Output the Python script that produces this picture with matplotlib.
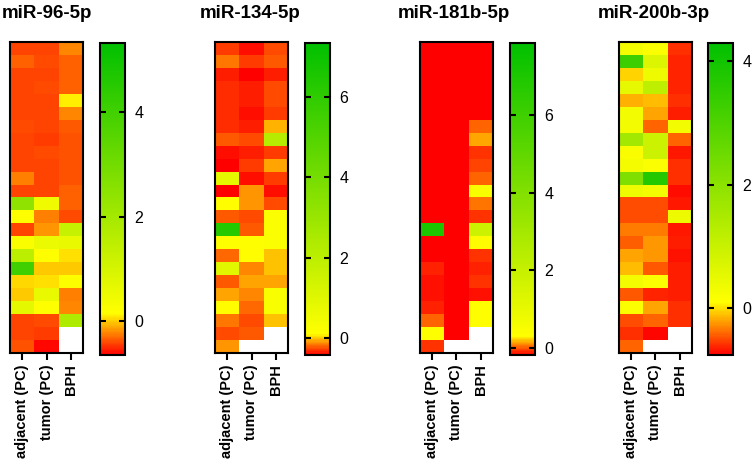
import numpy as np
import matplotlib
matplotlib.use("Agg")
import matplotlib.pyplot as plt
from matplotlib.colors import LinearSegmentedColormap, Normalize

plt.rcParams['font.family'] = ['Liberation Sans', 'DejaVu Sans']

nan = np.nan

groups = ["adjacent (PC)", "tumor (PC)", "BPH"]
titles = ["miR-96-5p", "miR-134-5p", "miR-181b-5p", "miR-200b-3p"]

# colour scale per panel: min, value shown as pure yellow, max
scale_min = [-0.65, -0.42, -0.18, -0.76]
scale_mid = [0.15, 0.10, 0.30, 0.10]
scale_max = [5.33, 7.34, 7.86, 4.30]
cbar_ticks = [[0, 2, 4], [0, 2, 4, 6], [0, 2, 4, 6], [0, 2, 4]]

# rows = samples (top to bottom), columns = adjacent, tumor, BPH
mir96 = [
    [-0.43, -0.43, -0.21], [-0.33, -0.41, -0.33], [-0.43, -0.42, -0.33],
    [-0.43, -0.40, -0.33], [-0.43, -0.42, 0.11], [-0.43, -0.42, -0.21],
    [-0.41, -0.43, -0.35], [-0.43, -0.44, -0.37], [-0.43, -0.41, -0.37],
    [-0.43, -0.43, -0.37], [-0.25, -0.43, -0.37], [-0.43, -0.43, -0.33],
    [2.40, 0.45, -0.33], [0.15, -0.25, -0.41], [-0.43, -0.17, 1.30],
    [0.25, 0.55, 0.60], [1.50, 0.15, 0.07], [4.00, -0.01, -0.01],
    [0.03, 0.07, 0.20], [-0.01, 0.60, -0.25], [0.70, 0.15, -0.21],
    [-0.43, -0.41, 1.80], [-0.43, -0.45, nan], [-0.37, -0.61, nan],
]
mir134 = [
    [-0.29, -0.37, -0.24], [-0.16, -0.27, -0.22], [-0.33, -0.39, -0.34],
    [-0.32, -0.34, -0.24], [-0.32, -0.33, -0.26], [-0.32, -0.37, -0.29],
    [-0.32, -0.34, -0.03], [-0.21, -0.24, 2.20], [-0.36, -0.34, -0.29],
    [-0.39, -0.29, -0.08], [0.80, -0.37, -0.29], [-0.41, -0.11, -0.36],
    [0.10, -0.11, -0.26], [-0.21, -0.24, 0.20], [6.30, -0.22, 0.20],
    [0.15, 0.15, 0.20], [-0.19, 0.10, 0.00], [1.00, -0.13, 0.00],
    [-0.21, -0.08, -0.06], [-0.06, -0.13, 0.30], [0.12, -0.19, 0.30],
    [-0.16, -0.24, 0.00], [-0.24, -0.21, nan], [-0.11, nan, nan],
]
mir181 = [
    [-0.17, -0.17, -0.17], [-0.17, -0.17, -0.17], [-0.17, -0.17, -0.17],
    [-0.17, -0.17, -0.17], [-0.17, -0.17, -0.17], [-0.17, -0.17, -0.17],
    [-0.17, -0.17, 0.01], [-0.17, -0.17, 0.16], [-0.17, -0.17, -0.08],
    [-0.17, -0.17, -0.04], [-0.17, -0.17, 0.01], [-0.17, -0.17, 0.50],
    [-0.17, -0.17, 0.06], [-0.17, -0.17, -0.08], [7.00, -0.17, 1.80],
    [-0.16, -0.17, 0.30], [-0.16, -0.17, -0.06], [-0.11, -0.17, -0.09],
    [-0.14, -0.17, -0.08], [-0.14, -0.17, -0.13], [-0.11, -0.17, 0.35],
    [0.01, -0.16, 0.35], [0.35, -0.165, nan], [-0.08, nan, nan],
]
mir200 = [
    [0.30, 0.15, -0.59], [3.30, 0.70, -0.63], [-0.03, 0.40, -0.63],
    [0.50, 1.15, -0.63], [-0.16, -0.12, -0.59], [0.30, -0.20, -0.66],
    [0.30, -0.42, 0.30], [1.60, 0.95, -0.42], [0.20, 0.95, -0.67],
    [0.25, 0.15, -0.59], [2.20, 3.70, -0.59], [0.35, 0.30, -0.72],
    [-0.50, -0.50, -0.67], [-0.50, -0.50, 0.40], [-0.33, -0.33, -0.67],
    [-0.43, -0.24, -0.66], [-0.20, -0.24, -0.69], [-0.12, -0.46, -0.66],
    [0.30, 0.15, -0.66], [-0.46, -0.63, -0.66], [0.15, -0.20, -0.59],
    [-0.50, -0.42, -0.59], [-0.59, -0.74, nan], [-0.42, nan, nan],
]
panels = [mir96, mir134, mir181, mir200]

W, H = 752, 462
fig = plt.figure(figsize=(W / 100, H / 100), dpi=100)


def px_box(x, top, w, bottom):
    return [x / W, 1 - bottom / H, w / W, (bottom - top) / H]


heat_x = [10, 215, 420, 619]
cbar_x = [100, 305, 510, 708]
title_x = [2, 200, 398, 598]

for i, data in enumerate(panels):
    vals = np.array(data, dtype=float)
    lo, mid, hi = scale_min[i], scale_mid[i], scale_max[i]
    p = (mid - lo) / (hi - lo)
    cmap = LinearSegmentedColormap.from_list(
        "ryg", [(0, "#ff0000"), (p, "#ffff00"), (1, "#00c000")])
    cmap.set_bad("white")
    norm = Normalize(vmin=lo, vmax=hi)

    ax = fig.add_axes(px_box(heat_x[i], 42, 73, 353))
    im = ax.imshow(np.ma.masked_invalid(vals), cmap=cmap, norm=norm,
                   aspect="auto", interpolation="nearest")
    ax.set_xticks(range(len(groups)))
    ax.set_xticklabels(groups, rotation=90, fontsize=10.5, fontweight="bold")
    ax.set_yticks([])
    ax.tick_params(axis="x", length=5, width=1.5, pad=3)
    for s in ax.spines.values():
        s.set_linewidth(1.5)

    cax = fig.add_axes(px_box(cbar_x[i], 43, 25, 355))
    cb = fig.colorbar(im, cax=cax)
    cb.set_ticks(cbar_ticks[i])
    cb.outline.set_linewidth(1.5)
    cax.tick_params(left=True, right=True, direction="in", length=4,
                    width=1.5, labelsize=11.5, pad=7)

    fig.text(title_x[i] / W, 1 - 14 / H, titles[i], fontsize=13.5,
             fontweight="bold", ha="left", va="center")

fig.savefig("out.png", dpi=100)
